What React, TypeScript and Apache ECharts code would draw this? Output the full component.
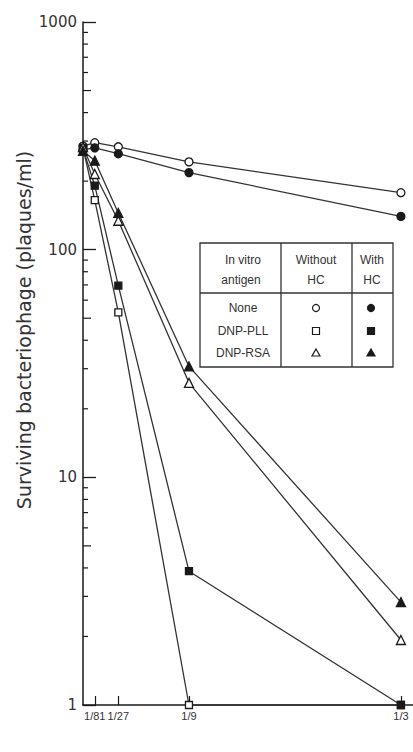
import React, { useEffect, useRef } from "react";
import * as echarts from "echarts";

// Antigen dilution positions (x) and labels
const xPositions = [0, 1 / 81, 1 / 27, 1 / 9, 1 / 3];
const xTickValues = [1 / 81, 1 / 27, 1 / 9, 1 / 3];
const xTickLabels = ["1/81", "1/27", "1/9", "1/3"];

// Surviving bacteriophage (plaques/ml)
const noneWithoutHC = [285, 295, 283, 243, 178];
const noneWithHC = [275, 280, 264, 218, 140];
const pllWithoutHC = [280, 165, 53, 1, 1];
const pllWithHC = [278, 191, 69.5, 3.87, 1];
const rsaWithoutHC = [282, 215, 134, 26, 1.93];
const rsaWithHC = [272, 246, 145, 30.7, 2.83];

const yMajorTicks = [1, 10, 100, 1000];
const yMinorMultipliers = [2, 3, 4, 5, 6, 7, 8, 9];
const yDecades = [1, 10, 100];

const tableRows = ["None", "DNP-PLL", "DNP-RSA"];

const INK = "#1a1a1a";
const LINE = "#333";

function pairs(vals: number[]) {
  return xPositions.map((x, i) => [x, vals[i]]);
}

export default function App() {
  const ref = useRef<HTMLDivElement>(null);
  useEffect(() => {
    if (!ref.current) return;
    const chart = echarts.init(ref.current, null, { renderer: "svg" });

    const minorData: number[][] = [];
    yDecades.forEach((d) =>
      yMinorMultipliers.forEach((m) => minorData.push([0, d * m, m]))
    );

    const mkSeries = (
      name: string,
      vals: number[],
      symbol: string,
      open: boolean,
      size: number
    ) => ({
      name,
      type: "line",
      data: pairs(vals),
      symbol,
      symbolSize: size,
      showAllSymbol: true,
      clip: false,
      z: 3,
      lineStyle: { color: LINE, width: 1.3 },
      itemStyle: {
        color: open ? "#fff" : INK,
        borderColor: INK,
        borderWidth: 1.3,
      },
      emphasis: { disabled: true },
    });

    const tblL = 200,
      tblR = 393,
      tblT = 243,
      tblB = 367,
      col1 = 281,
      col2 = 352,
      hdrB = 293;
    const rowY = [308, 331, 353];
    const openX = 316,
      fillX = 371;
    const Z = 20;
    const txt = (x: number, y: number, text: string, size = 12) => ({
      type: "text",
      x,
      y,
      z: Z + 1,
      style: {
        text,
        fontSize: size,
        fontFamily: "Liberation Sans",
        fill: "#333",
        align: "center",
        verticalAlign: "middle",
      },
    });
    const ln = (x1: number, y1: number, x2: number, y2: number) => ({
      type: "line",
      z: Z + 1,
      shape: { x1, y1, x2, y2 },
      style: { stroke: LINE, lineWidth: 1.3 },
    });
    const markerStyle = (open: boolean) => ({
      fill: open ? "#fff" : INK,
      stroke: INK,
      lineWidth: 1.2,
    });
    const tri = (cx: number, cy: number, open: boolean) => ({
      type: "polygon",
      z: Z + 1,
      shape: {
        points: [
          [cx, cy - 4],
          [cx + 4, cy + 3],
          [cx - 4, cy + 3],
        ],
      },
      style: markerStyle(open),
    });
    const sq = (cx: number, cy: number, open: boolean) => ({
      type: "rect",
      z: Z + 1,
      shape: { x: cx - 3.5, y: cy - 3.5, width: 7, height: 7 },
      style: markerStyle(open),
    });
    const circ = (cx: number, cy: number, open: boolean) => ({
      type: "circle",
      z: Z + 1,
      shape: { cx, cy, r: 3.5 },
      style: markerStyle(open),
    });

    chart.setOption({
      animation: false,
      backgroundColor: "#fff",
      grid: { left: 83, right: 0, top: 22, bottom: 47, containLabel: false },
      xAxis: {
        type: "value",
        min: 0,
        max: 0.346,
        splitLine: { show: false },
        axisLine: { show: true, lineStyle: { color: INK, width: 1.5 } },
        axisTick: {
          show: true,
          inside: true,
          length: 9,
          customValues: xTickValues,
          lineStyle: { color: INK, width: 1.2 },
        },
        axisLabel: {
          show: true,
          customValues: xTickValues,
          hideOverlap: false,
          showMinLabel: true,
          showMaxLabel: true,
          margin: 5,
          fontSize: 11,
          fontFamily: "Liberation Sans",
          color: "#333",
          formatter: (v: number) => {
            const i = xTickValues.findIndex((t) => Math.abs(t - v) < 1e-6);
            return i >= 0 ? xTickLabels[i] : "";
          },
        },
      },
      yAxis: {
        type: "log",
        logBase: 10,
        min: 1,
        max: 1000,
        splitLine: { show: false },
        axisLine: { show: true, lineStyle: { color: INK, width: 1.5 } },
        axisTick: {
          show: true,
          inside: true,
          length: 13,
          customValues: yMajorTicks,
          lineStyle: { color: INK, width: 1.3 },
        },
        minorTick: { show: false },
        axisLabel: {
          show: true,
          customValues: yMajorTicks,
          margin: 6,
          fontSize: 15,
          fontFamily: "DejaVu Sans",
          color: "#333",
          formatter: (v: number) => String(Math.round(v)),
        },
      },
      series: [
        {
          type: "custom",
          name: "minorTicks",
          data: minorData,
          clip: false,
          silent: true,
          z: 1,
          renderItem: (params: any, api: any) => {
            const p = api.coord([api.value(0), api.value(1)]);
            const m = api.value(2);
            const len = m === 5 ? 8 : 5;
            return {
              type: "line",
              shape: { x1: p[0], y1: p[1], x2: p[0] + len, y2: p[1] },
              style: { stroke: INK, lineWidth: 1.2 },
            };
          },
        },
        mkSeries("None without HC", noneWithoutHC, "circle", true, 8),
        mkSeries("None with HC", noneWithHC, "circle", false, 8),
        mkSeries("DNP-PLL without HC", pllWithoutHC, "rect", true, 7),
        mkSeries("DNP-PLL with HC", pllWithHC, "rect", false, 7),
        mkSeries("DNP-RSA without HC", rsaWithoutHC, "triangle", true, 9),
        mkSeries("DNP-RSA with HC", rsaWithHC, "triangle", false, 9),
      ],
      graphic: [
        {
          type: "text",
          x: 24,
          y: 330,
          rotation: Math.PI / 2,
          style: {
            text: "Surviving bacteriophage (plaques/ml)",
            fontSize: 19,
            fontFamily: "DejaVu Sans",
            fill: "#333",
            align: "center",
            verticalAlign: "middle",
          },
        },
        {
          type: "rect",
          z: Z,
          shape: { x: tblL, y: tblT, width: tblR - tblL, height: tblB - tblT },
          style: { fill: "#fff", stroke: LINE, lineWidth: 1.3 },
        },
        ln(col1, tblT, col1, tblB),
        ln(col2, tblT, col2, tblB),
        ln(tblL, hdrB, tblR, hdrB),
        txt(243, 260, "In vitro"),
        txt(241, 280, "antigen"),
        txt(316, 260, "Without"),
        txt(316, 280, "HC"),
        txt(372, 260, "With"),
        txt(372, 280, "HC"),
        txt(243, rowY[0], tableRows[0]),
        txt(243, rowY[1], tableRows[1]),
        txt(243, rowY[2], tableRows[2]),
        circ(openX, rowY[0], true),
        circ(fillX, rowY[0], false),
        sq(openX, rowY[1], true),
        sq(fillX, rowY[1], false),
        tri(openX, rowY[2], true),
        tri(fillX, rowY[2], false),
      ],
    });
    return () => chart.dispose();
  }, []);
  return (
    <div
      ref={ref}
      style={{
        position: "fixed",
        left: 0,
        top: 0,
        width: 413,
        height: 752,
        background: "#fff",
      }}
    />
  );
}
